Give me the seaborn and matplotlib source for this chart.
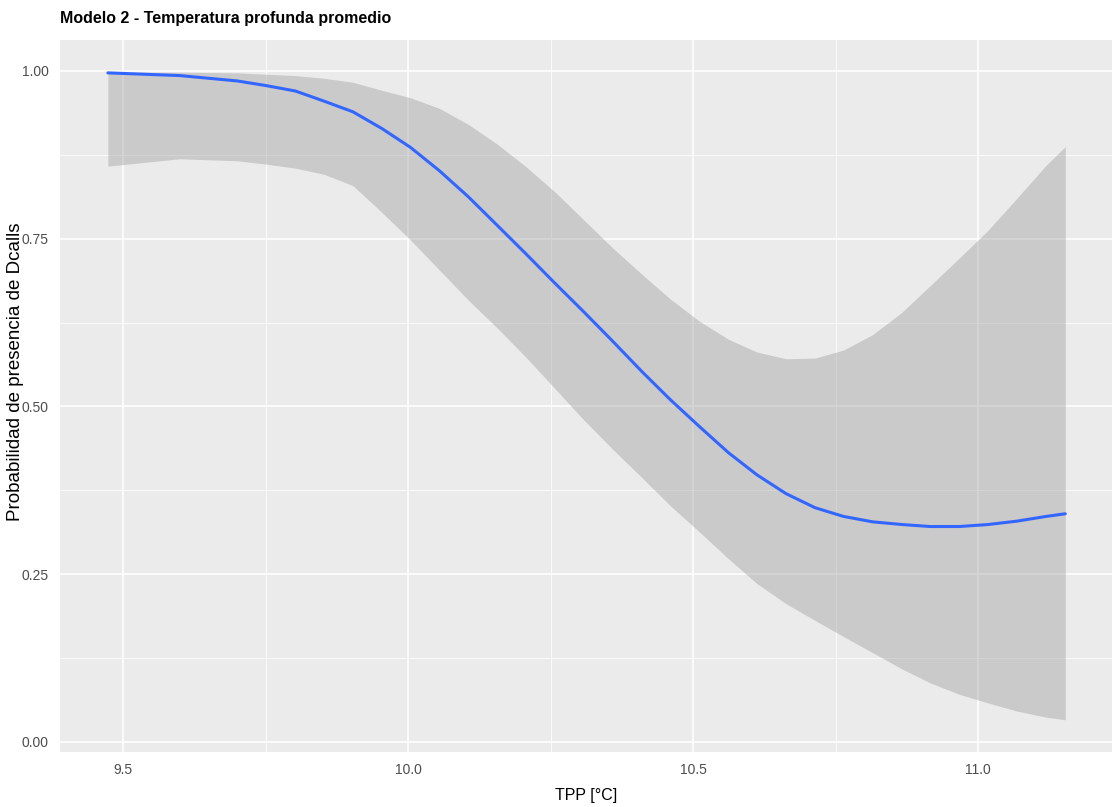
import matplotlib
matplotlib.use("Agg")
import matplotlib.pyplot as plt
import seaborn as sns
import pandas as pd
from matplotlib.ticker import FixedLocator

# Data
tpp = [9.473, 9.599, 9.700, 9.751, 9.802, 9.852, 9.903, 9.954, 10.004, 10.055,
       10.106, 10.156, 10.207, 10.257, 10.308, 10.359, 10.410, 10.460, 10.511,
       10.562, 10.612, 10.663, 10.714, 10.764, 10.815, 10.866, 10.916, 10.967,
       11.018, 11.068, 11.119, 11.153]
fit = [0.997, 0.993, 0.985, 0.978, 0.970, 0.955, 0.939, 0.914, 0.886, 0.851,
       0.812, 0.770, 0.727, 0.684, 0.641, 0.597, 0.552, 0.510, 0.470,
       0.431, 0.398, 0.370, 0.349, 0.336, 0.328, 0.324, 0.321, 0.321,
       0.324, 0.329, 0.336, 0.340]
upper = [0.998, 0.998, 0.997, 0.995, 0.993, 0.989, 0.983, 0.971, 0.960, 0.944,
         0.920, 0.891, 0.857, 0.820, 0.778, 0.736, 0.697, 0.660, 0.627,
         0.600, 0.581, 0.571, 0.572, 0.584, 0.607, 0.640, 0.680, 0.721,
         0.763, 0.810, 0.859, 0.887]
lower = [0.858, 0.869, 0.866, 0.861, 0.855, 0.846, 0.829, 0.789, 0.748, 0.703,
         0.658, 0.617, 0.573, 0.527, 0.480, 0.436, 0.394, 0.352, 0.313,
         0.273, 0.236, 0.206, 0.181, 0.157, 0.133, 0.109, 0.088, 0.071,
         0.058, 0.046, 0.037, 0.033]

x_ticks = [9.5, 10.0, 10.5, 11.0]
x_ticklabels = ["9.5", "10.0", "10.5", "11.0"]
y_ticks = [0.00, 0.25, 0.50, 0.75, 1.00]
y_ticklabels = ["0.00", "0.25", "0.50", "0.75", "1.00"]

title = "Modelo 2 - Temperatura profunda promedio"
xlabel = "TPP [°C]"
ylabel = "Probabilidad de presencia de Dcalls"

df = pd.DataFrame({"tpp": tpp, "fit": fit, "upper": upper, "lower": lower})

sns.set_theme(style="darkgrid")
plt.rcParams["font.family"] = ["Liberation Sans", "DejaVu Sans"]

W, H = 1114, 807
fig = plt.figure(figsize=(W / 100, H / 100), dpi=100)
ax = fig.add_axes([60 / W, 1 - 752 / H, (1112 - 60) / W, (752 - 40) / H])
ax.set_facecolor("#EBEBEB")

ax.fill_between(df["tpp"], df["lower"], df["upper"], color="#999999",
                alpha=0.4, linewidth=0, zorder=2)
sns.lineplot(data=df, x="tpp", y="fit", ax=ax, color="#3366FF", linewidth=2.2,
             zorder=3)

ax.set_xlim(9.389, 11.235)
ax.set_ylim(-0.0150, 1.046)

ax.xaxis.set_major_locator(FixedLocator(x_ticks))
ax.set_xticklabels(x_ticklabels)
ax.yaxis.set_major_locator(FixedLocator(y_ticks))
ax.set_yticklabels(y_ticklabels)
ax.xaxis.set_minor_locator(FixedLocator([9.25, 9.75, 10.25, 10.75, 11.25]))
ax.yaxis.set_minor_locator(FixedLocator([0.125, 0.375, 0.625, 0.875]))

ax.grid(which="major", color="white", linewidth=1.1, zorder=1)
ax.grid(which="minor", color="white", linewidth=0.55, zorder=1)
ax.set_axisbelow(True)
for s in ax.spines.values():
    s.set_visible(False)

ax.tick_params(axis="both", which="major", length=4, width=0.8, color="#333333",
               labelcolor="#4D4D4D", labelsize=10, pad=4, direction="out")
ax.tick_params(axis="both", which="minor", length=0)

ax.set_xlabel(xlabel, fontsize=11.5, color="black", labelpad=8)
ax.set_ylabel("")
fig.text(16 / W, 1 - 372 / H, ylabel, rotation=90, fontsize=13.5,
         ha="center", va="center", color="black")

fig.text(60 / W, 1 - 18 / H, title, fontsize=11.5, fontweight="bold",
         ha="left", va="center", color="black")

fig.savefig("out.png", dpi=100, facecolor="white")
